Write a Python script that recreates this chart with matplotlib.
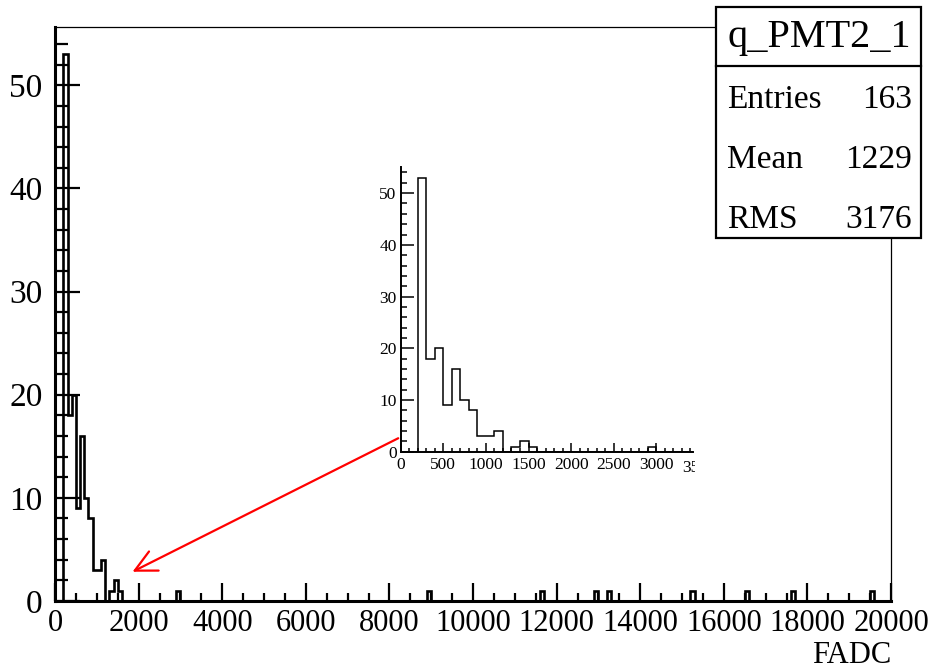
import numpy as np
import matplotlib
matplotlib.use('Agg')
import matplotlib.pyplot as plt
from matplotlib.patches import Rectangle, FancyArrowPatch
from matplotlib.ticker import MultipleLocator

plt.rcParams['font.family'] = ['Liberation Serif', 'DejaVu Serif']

# FADC charge histogram, 200 bins of width 100 between 0 and 20000
bin_width = 100
x_max = 20000
low_counts = [0, 0, 53, 18, 20, 9, 16, 10, 8, 3, 3, 4, 0, 1, 2, 1]   # bins 0 .. 1600
single_hits = [2900, 8900, 11600, 12900, 13200, 15200, 16500, 17600, 19500]  # bins holding one entry

hist_name = 'q_PMT2_1'
stats_labels = ['Entries', 'Mean', 'RMS']
stats_values = ['163', '1229', '3176']

edges = np.arange(0, x_max + bin_width, bin_width)
counts = np.zeros(len(edges) - 1)
counts[:len(low_counts)] = low_counts
for lo in single_hits:
    counts[lo // bin_width] += 1

W, H = 932, 672
fig = plt.figure(figsize=(W / 100, H / 100), dpi=100)


def px(x0, y0, x1, y1):
    # pixel box (top-left origin) -> figure fraction rect
    return [x0 / W, 1 - y1 / H, (x1 - x0) / W, (y1 - y0) / H]


# main histogram
ax = fig.add_axes(px(55, 27, 891, 601))
ax.stairs(counts, edges, color='black', lw=1.9)
ax.set_xlim(0, x_max)
ax.set_ylim(0, 53 * 1.05)
ax.xaxis.set_major_locator(MultipleLocator(2000))
ax.xaxis.set_minor_locator(MultipleLocator(500))
ax.yaxis.set_major_locator(MultipleLocator(10))
ax.yaxis.set_minor_locator(MultipleLocator(2))
for side in ['top', 'right']:
    ax.spines[side].set_linewidth(0.9)
for side in ['left', 'bottom']:
    ax.spines[side].set_linewidth(2.2)
ax.tick_params(axis='x', which='major', direction='in', length=12.7, width=1.6,
               labelsize=22, pad=6)
ax.tick_params(axis='x', which='minor', direction='in', length=6, width=1.6)
ax.tick_params(axis='y', which='major', direction='in', length=18, width=1.6,
               labelsize=24, pad=9)
ax.tick_params(axis='y', which='minor', direction='in', length=9.4, width=1.6)
ax.set_xlabel('FADC', fontsize=22, loc='right', labelpad=2)

# zoomed view of the low charge region
inset_size = 12.5
ins = fig.add_axes(px(400.7, 167.3, 693, 451.7))
ins.patch.set_alpha(0)
ins.stairs(counts, edges, color='black', lw=1.1)
ins.set_xlim(0, 3430)
ins.set_ylim(0, 55)
ins.xaxis.set_major_locator(MultipleLocator(500))
ins.xaxis.set_minor_locator(MultipleLocator(100))
ins.yaxis.set_major_locator(MultipleLocator(10))
ins.yaxis.set_minor_locator(MultipleLocator(2))
for side in ['top', 'right']:
    ins.spines[side].set_visible(False)
for side in ['left', 'bottom']:
    ins.spines[side].set_linewidth(1.4)
ins.tick_params(axis='x', which='major', direction='in', length=6.5, width=1.1,
                labelsize=inset_size, pad=4)
ins.tick_params(axis='x', which='minor', direction='in', length=3.2, width=1.1)
ins.tick_params(axis='y', which='major', direction='in', length=9, width=1.1,
                labelsize=inset_size, pad=3)
ins.tick_params(axis='y', which='minor', direction='in', length=4.5, width=1.1)
# last label runs past the cut edge of the inset
cut = ins.text(3500, -0.028, '3500', transform=ins.get_xaxis_transform(),
               ha='center', va='top', fontsize=inset_size, clip_on=True)
cut.set_clip_path(Rectangle((0, 0), 695 / W, 1, transform=fig.transFigure))

# arrow pointing from the inset down to the region it magnifies
arrow = FancyArrowPatch((400.7 / W, 1 - 437 / H), (130 / W, 1 - 573 / H),
                        transform=fig.transFigure, arrowstyle='->,head_length=1.1,head_width=0.55',
                        mutation_scale=14, color='red', lw=1.6)
fig.add_artist(arrow)

# statistics box
fig.add_artist(Rectangle((716 / W, 1 - 238 / H), 205 / W, 231 / H, transform=fig.transFigure,
                         facecolor='white', edgecolor='black', lw=1.6, zorder=5))
fig.add_artist(plt.Line2D([716 / W, 921 / W], [1 - 66 / H, 1 - 66 / H],
                          transform=fig.transFigure, color='black', lw=1.6, zorder=6))
fig.text(819 / W, 1 - 37 / H, hist_name, ha='center', va='center', fontsize=29, zorder=7)
for i, (lab, val) in enumerate(zip(stats_labels, stats_values)):
    y = 1 - (100 + 60 * i) / H
    fig.text(727 / W, y, lab, ha='left', va='center', fontsize=24, zorder=7)
    fig.text(912 / W, y, val, ha='right', va='center', fontsize=24, zorder=7)

fig.savefig('out.png', dpi=100)
